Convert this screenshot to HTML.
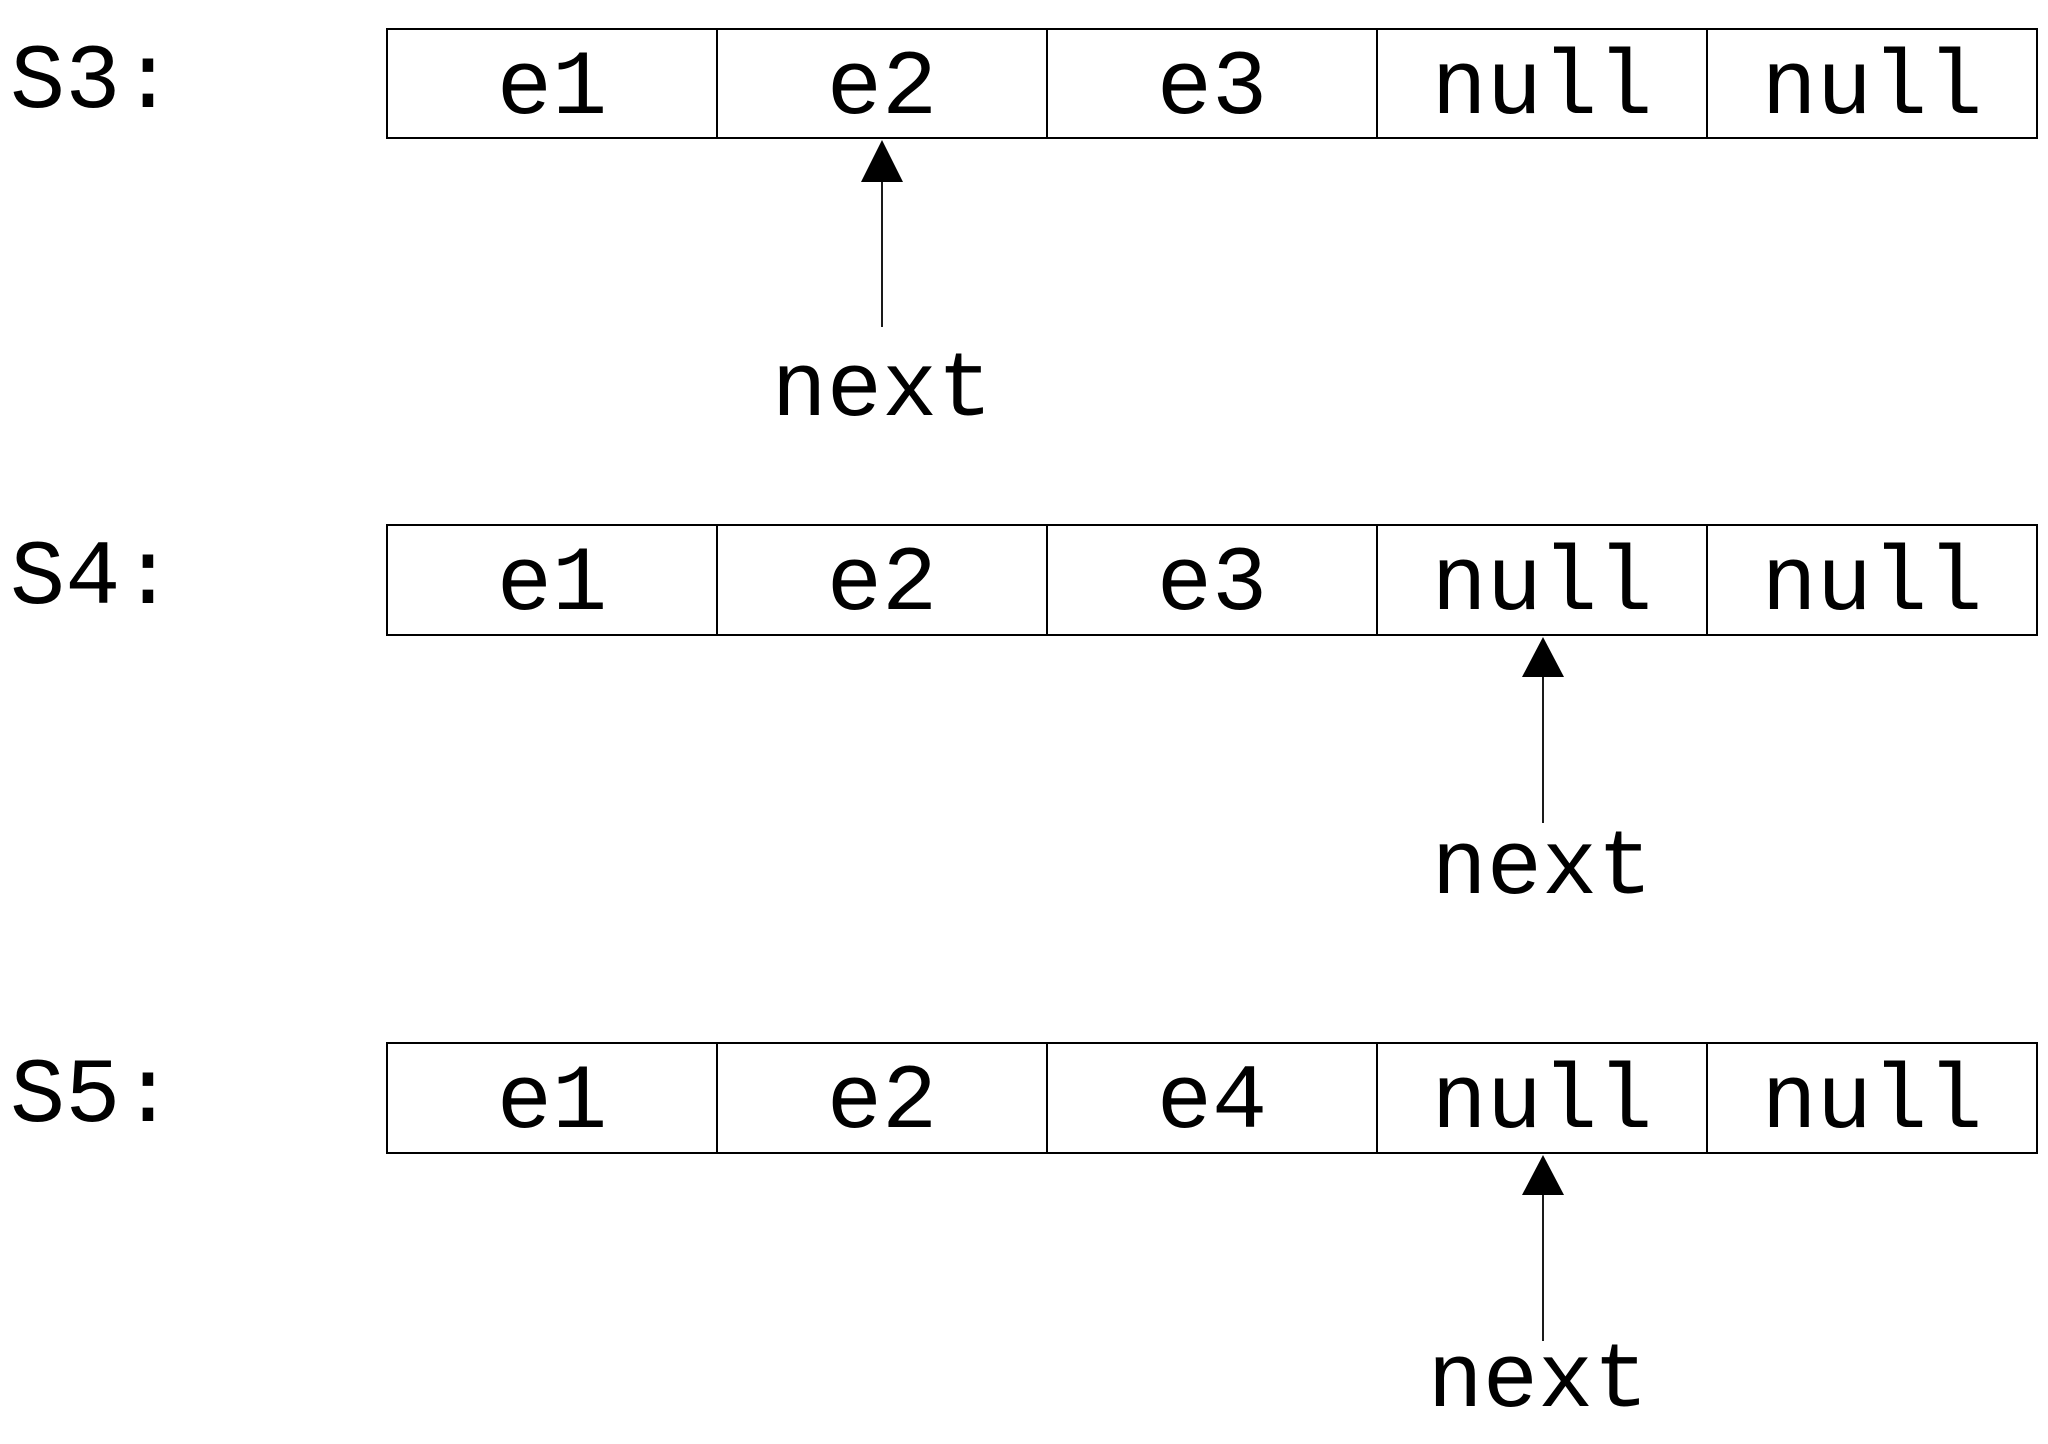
<!DOCTYPE html>
<html><head><meta charset="utf-8"><style>html,body{margin:0;padding:0;background:#fff;}svg{display:block;}</style></head>
<body>
<svg width="2048" height="1444" viewBox="0 0 2048 1444" xmlns="http://www.w3.org/2000/svg" font-family="'Liberation Mono', monospace" font-size="92" fill="#000">
<g stroke="#000" stroke-width="2" fill="none">
<rect x="387" y="29" width="1650" height="109"/>
<line x1="717" y1="29" x2="717" y2="138"/><line x1="1047" y1="29" x2="1047" y2="138"/><line x1="1377" y1="29" x2="1377" y2="138"/><line x1="1707" y1="29" x2="1707" y2="138"/>
<rect x="387" y="525" width="1650" height="110"/>
<line x1="717" y1="525" x2="717" y2="635"/><line x1="1047" y1="525" x2="1047" y2="635"/><line x1="1377" y1="525" x2="1377" y2="635"/><line x1="1707" y1="525" x2="1707" y2="635"/>
<rect x="387" y="1043" width="1650" height="110"/>
<line x1="717" y1="1043" x2="717" y2="1153"/><line x1="1047" y1="1043" x2="1047" y2="1153"/><line x1="1377" y1="1043" x2="1377" y2="1153"/><line x1="1707" y1="1043" x2="1707" y2="1153"/>
<line x1="882" y1="180" x2="882" y2="327" stroke-width="1.8"/>
<line x1="1543" y1="675" x2="1543" y2="823" stroke-width="1.8"/>
<line x1="1543" y1="1193" x2="1543" y2="1341" stroke-width="1.8"/>
</g>
<polygon points="882,140 861,182 903,182"/>
<polygon points="1543,637 1522,677 1564,677"/>
<polygon points="1543,1155 1522,1195 1564,1195"/>
<g>
<text x="10" y="107">S3:</text>
<text x="10" y="603">S4:</text>
<text x="10" y="1121">S5:</text>
</g>
<g text-anchor="middle">
<text x="552" y="113">e1</text><text x="882" y="113">e2</text><text x="1212" y="113">e3</text><text x="1542" y="113">null</text><text x="1872" y="113">null</text>
<text x="552" y="609">e1</text><text x="882" y="609">e2</text><text x="1212" y="609">e3</text><text x="1542" y="609">null</text><text x="1872" y="609">null</text>
<text x="552" y="1127">e1</text><text x="882" y="1127">e2</text><text x="1212" y="1127">e4</text><text x="1542" y="1127">null</text><text x="1872" y="1127">null</text>
<text x="882" y="415">next</text>
<text x="1542" y="893">next</text>
<text x="1538" y="1406">next</text>
</g>
</svg>
</body></html>
